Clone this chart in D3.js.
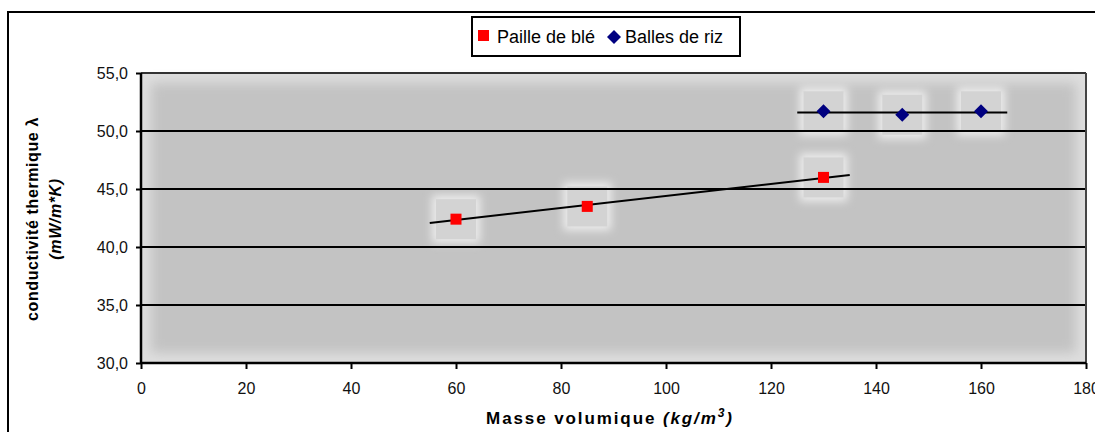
<html>
<script src="https://d3js.org/d3.v7.min.js"></script>
<style>
    body { margin: 0; background: #fff; }
    text { font-family: Arial, "Liberation Sans", sans-serif; }
</style>

<body>
    <script>
        var width = 1095;
        var height = 432;

        // data
        var pailleX = [60, 85, 130];
        var pailleY = [42.4, 43.5, 46.0];
        var rizX = [130, 145, 160];
        var rizY = [51.7, 51.4, 51.7];
        var xTicks = [0, 20, 40, 60, 80, 100, 120, 140, 160, 180];
        var yTicks = [30, 35, 40, 45, 50, 55];
        var seriesNames = ["Paille de blé", "Balles de riz"];

        var svg = d3.select("body").append("svg")
            .attr("width", width)
            .attr("height", height);

        var defs = svg.append("defs");
        defs.append("filter").attr("id", "blur")
            .attr("x", "-10%").attr("y", "-10%").attr("width", "120%").attr("height", "120%")
            .append("feGaussianBlur").attr("stdDeviation", 6);
        defs.append("filter").attr("id", "glow")
            .attr("x", "-50%").attr("y", "-50%").attr("width", "200%").attr("height", "200%")
            .append("feGaussianBlur").attr("stdDeviation", 4);

        var pLeft = 141, pRight = 1086, pTop = 73, pBottom = 363;
        var x = d3.scaleLinear().domain([0, 180]).range([pLeft, pRight]);
        var y = d3.scaleLinear().domain([30, 55]).range([pBottom, pTop]);

        // outer frame (cut off by the window on right/bottom)
        svg.append("rect")
            .attr("x", 8).attr("y", 12)
            .attr("width", 1100).attr("height", 440)
            .attr("fill", "none").attr("stroke", "black").attr("stroke-width", 2);

        // plot area, soft grey with light edges
        svg.append("rect")
            .attr("x", pLeft).attr("y", pTop)
            .attr("width", pRight - pLeft).attr("height", pBottom - pTop)
            .attr("fill", "#dedede");
        svg.append("rect")
            .attr("x", pLeft + 10).attr("y", pTop + 10)
            .attr("width", pRight - pLeft - 20).attr("height", pBottom - pTop - 20)
            .attr("fill", "#c3c3c3")
            .attr("filter", "url(#blur)");

        // light squares behind the markers
        var allPts = pailleX.map((v, i) => [v, pailleY[i]]).concat(rizX.map((v, i) => [v, rizY[i]]));
        svg.append("g").selectAll("rect")
            .data(allPts).enter().append("rect")
            .attr("x", d => x(d[0]) - 24).attr("y", d => y(d[1]) - 24)
            .attr("width", 48).attr("height", 48)
            .attr("fill", "#ececec").attr("filter", "url(#glow)");
        svg.append("g").selectAll("rect")
            .data(allPts).enter().append("rect")
            .attr("x", d => x(d[0]) - 20).attr("y", d => y(d[1]) - 20)
            .attr("width", 40).attr("height", 40)
            .attr("fill", "#d3d3d3");

        // grid lines
        svg.append("g").selectAll("line")
            .data(yTicks.slice(1))
            .enter().append("line")
            .attr("x1", pLeft).attr("x2", pRight)
            .attr("y1", d => y(d)).attr("y2", d => y(d))
            .attr("stroke", d => d === 55 ? "#333" : "black").attr("stroke-width", 2);

        // right border of plot
        svg.append("line")
            .attr("x1", pRight).attr("x2", pRight)
            .attr("y1", pTop).attr("y2", pBottom)
            .attr("stroke", "#444").attr("stroke-width", 2);

        // axes
        var yAxis = d3.axisLeft(y).tickValues(yTicks).tickSize(5).tickPadding(8)
            .tickFormat(d => d3.format(".1f")(d).replace(".", ","));
        var gy = svg.append("g").attr("transform", `translate(${pLeft},0)`).call(yAxis);
        var xAxis = d3.axisBottom(x).tickValues(xTicks).tickSize(6).tickPadding(14);
        var gx = svg.append("g").attr("transform", `translate(0,${pBottom})`).call(xAxis);
        [gx, gy].forEach(g => {
            g.attr("font-size", 16).attr("font-family", "Arial, 'Liberation Sans', sans-serif");
            g.select(".domain").attr("stroke", "black").attr("stroke-width", 2.5);
            g.selectAll(".tick line").attr("stroke", "black").attr("stroke-width", 2);
            g.selectAll(".tick text").attr("fill", "#111");
        });
        gx.select(".domain").attr("d", `M${pLeft},0H${pRight}`);
        gy.select(".domain").attr("d", `M0,${pTop}V${pBottom}`);

        // linear trend lines
        function fit(xs, ys) {
            var mx = d3.mean(xs), my = d3.mean(ys);
            var sxy = d3.sum(xs, (v, i) => (v - mx) * (ys[i] - my));
            var sxx = d3.sum(xs, v => (v - mx) * (v - mx));
            var b = sxy / sxx;
            return v => my + b * (v - mx);
        }
        var f1 = fit(pailleX, pailleY);
        var f2 = fit(rizX, rizY);
        var trends = [[55, 135, f1], [125, 165, f2]];
        svg.append("g").selectAll("line")
            .data(trends).enter().append("line")
            .attr("x1", d => x(d[0])).attr("x2", d => x(d[1]))
            .attr("y1", d => y(d[2](d[0]))).attr("y2", d => y(d[2](d[1])))
            .attr("stroke", "black").attr("stroke-width", 2);

        // markers
        svg.append("g").selectAll("rect")
            .data(pailleX.map((v, i) => [v, pailleY[i]])).enter().append("rect")
            .attr("x", d => x(d[0]) - 5.5).attr("y", d => y(d[1]) - 5.5)
            .attr("width", 11).attr("height", 11)
            .attr("fill", "#ff0000");
        svg.append("g").selectAll("path")
            .data(rizX.map((v, i) => [v, rizY[i]])).enter().append("path")
            .attr("transform", d => `translate(${x(d[0])},${y(d[1])})`)
            .attr("d", "M0,-7L7,0L0,7L-7,0Z")
            .attr("fill", "#000080");

        // legend
        var lg = svg.append("g");
        lg.append("rect").attr("x", 472).attr("y", 17).attr("width", 268).attr("height", 39)
            .attr("fill", "white").attr("stroke", "black").attr("stroke-width", 2);
        lg.append("rect").attr("x", 478).attr("y", 30).attr("width", 11).attr("height", 11).attr("fill", "#ff0000");
        lg.append("text").attr("x", 497).attr("y", 43).attr("font-size", 18).text(seriesNames[0]);
        lg.append("path").attr("transform", "translate(614,37)").attr("d", "M0,-7L7,0L0,7L-7,0Z").attr("fill", "#000080");
        lg.append("text").attr("x", 625).attr("y", 43).attr("font-size", 18).text(seriesNames[1]);

        // axis titles
        var xt = svg.append("text")
            .attr("x", 610).attr("y", 424)
            .attr("text-anchor", "middle")
            .attr("font-size", 17).attr("font-weight", "bold")
            .attr("letter-spacing", 1.9);
        xt.append("tspan").text("Masse volumique ");
        xt.append("tspan").attr("font-style", "italic").text("(kg/m");
        xt.append("tspan").attr("font-style", "italic").attr("font-size", 12).attr("dy", -7).text("3");
        xt.append("tspan").attr("font-style", "italic").attr("dy", 7).text(")");

        svg.append("text")
            .attr("transform", "translate(38,219) rotate(-90)")
            .attr("text-anchor", "middle")
            .attr("font-size", 16).attr("font-weight", "bold").attr("letter-spacing", 0.6)
            .text("conductivité thermique λ");
        svg.append("text")
            .attr("transform", "translate(61,219) rotate(-90)")
            .attr("text-anchor", "middle")
            .attr("font-size", 16).attr("font-weight", "bold").attr("font-style", "italic")
            .attr("letter-spacing", 0.6)
            .text("(mW/m*K)");
    </script>
</body>

</html>
